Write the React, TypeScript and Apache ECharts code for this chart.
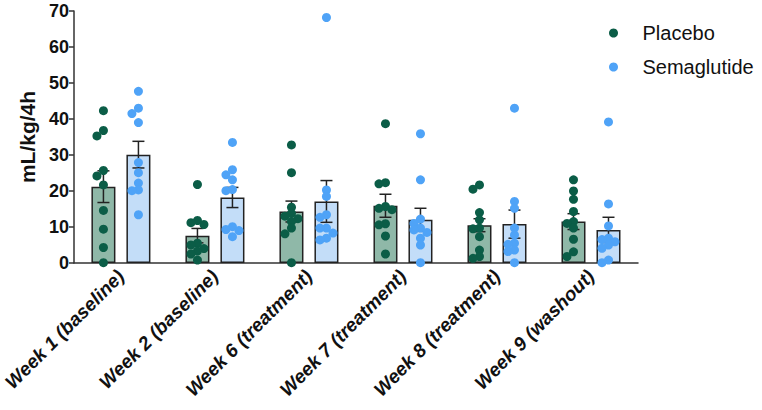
import { useEffect, useRef } from "react";
import * as echarts from "echarts";

const weeks = [
  "Week 1 (baseline)",
  "Week 2 (baseline)",
  "Week 6 (treatment)",
  "Week 7 (treatment)",
  "Week 8 (treatment)",
  "Week 9 (washout)",
];

const placeboMean = [21.2, 7.6, 14.3, 15.9, 10.5, 11.5];
const placeboSem = [4.4, 2.0, 2.9, 3.2, 1.8, 2.2];
const semaMean = [30.1, 18.2, 17.1, 12.0, 10.8, 9.2];
const semaSem = [3.7, 2.8, 5.8, 3.2, 3.9, 3.5];

const placeboPoints = [
  [42.3, 36.8, 35.3, 25.7, 24.2, 21.7, 14.6, 9.4, 4.3, 0.1],
  [21.8, 11.8, 11.2, 10.7, 5.5, 5.0, 4.0, 3.3, 2.5, 0.8],
  [32.8, 25.1, 15.5, 13.8, 13.0, 12.3, 11.5, 9.7, 8.1, 0.1],
  [38.7, 22.3, 22.0, 15.7, 15.2, 14.8, 10.9, 10.6, 7.5, 2.5],
  [21.7, 20.5, 14.0, 12.0, 9.7, 9.5, 7.3, 3.6, 1.8, 1.3],
  [23.1, 20.0, 17.7, 14.3, 11.5, 11.0, 9.7, 6.6, 3.1, 1.8],
];

const semaPoints = [
  [47.7, 43.0, 41.5, 39.0, 27.9, 25.1, 22.2, 20.3, 20.1, 13.4],
  [33.5, 25.9, 24.5, 23.1, 20.4, 20.1, 10.1, 9.3, 9.0, 7.3],
  [68.2, 20.3, 18.5, 13.4, 12.7, 9.7, 9.7, 8.3, 6.9, 6.4],
  [35.9, 23.1, 12.2, 11.0, 9.7, 9.2, 8.5, 6.9, 5.0, 0.1],
  [43.0, 17.1, 15.2, 9.7, 7.8, 5.5, 5.2, 3.6, 3.2, 0.1],
  [39.2, 16.4, 10.3, 6.9, 6.5, 5.9, 5.0, 4.1, 0.8, 0.1],
];

const GRID = { left: 69, right: 124, top: 11, bottom: 147 };
const Y_MAX = 70;
const BAR_W = 24;
const BAR_GAP = 11;
const DOT = 9;
const FONT = "Liberation Sans, Arial, sans-serif";

// simple beeswarm: spread dots that would overlap too much
function swarm(values: number[], pxPerUnit: number) {
  const placed: { x: number; y: number }[] = [];
  const steps = [0, -1, 1, -2, 2];
  return values.map((v) => {
    const y = v * pxPerUnit;
    for (const k of steps) {
      const x = k * 6.5;
      if (placed.every((p) => Math.hypot(p.x - x, p.y - y) >= DOT - 3)) {
        placed.push({ x, y });
        return x;
      }
    }
    placed.push({ x: 0, y });
    return 0;
  });
}

export default function App() {
  const chartRef = useRef<HTMLDivElement>(null);

  useEffect(() => {
    document.body.style.margin = "0";
    if (!chartRef.current) return;
    const chart = echarts.init(chartRef.current, null, { renderer: "svg" });
    const pxPerUnit = (410 - GRID.top - GRID.bottom) / Y_MAX;
    const half = (BAR_W + BAR_GAP) / 2;

    const dots = (groups: number[][], shift: number) =>
      groups.flatMap((vals, i) => {
        const jit = swarm(vals, pxPerUnit);
        return vals.map((v, j) => ({ value: [i, v], symbolOffset: [shift + jit[j], 0] }));
      });

    const errorSeries = (name: string, mean: number[], sem: number[], shift: number) => ({
      name,
      type: "custom",
      z: 3,
      silent: true,
      data: mean.map((m, i) => [i, m, sem[i]]),
      renderItem: (_p: any, api: any) => {
        const i = api.value(0);
        const m = api.value(1);
        const s = api.value(2);
        const top = api.coord([i, m + s]);
        const bot = api.coord([i, m - s]);
        const x = top[0] + shift;
        const st = { stroke: "#222", lineWidth: 1.5 };
        return {
          type: "group",
          children: [
            { type: "line", shape: { x1: x, y1: top[1], x2: x, y2: bot[1] }, style: st },
            { type: "line", shape: { x1: x - 6, y1: top[1], x2: x + 6, y2: top[1] }, style: st },
            { type: "line", shape: { x1: x - 6, y1: bot[1], x2: x + 6, y2: bot[1] }, style: st },
          ],
        };
      },
    });

    const option = {
      animation: false,
      grid: GRID,
      legend: {
        data: ["Placebo", "Semaglutide"],
        orient: "vertical",
        left: 604,
        top: 18,
        icon: "circle",
        itemWidth: 48,
        itemHeight: 9,
        itemGap: 14,
        textStyle: { fontSize: 20, fontFamily: FONT, color: "#111" },
      },
      xAxis: {
        type: "category",
        data: weeks,
        axisLine: { lineStyle: { color: "#333", width: 1.5 } },
        axisTick: { alignWithLabel: true, length: 7, lineStyle: { color: "#333", width: 1.5 } },
        axisLabel: {
          rotate: 45,
          margin: 10,
          fontSize: 19,
          fontWeight: "bold",
          fontStyle: "italic",
          fontFamily: FONT,
          color: "#111",
        },
      },
      yAxis: {
        type: "value",
        min: 0,
        max: Y_MAX,
        interval: 10,
        name: "mL/kg/4h",
        nameLocation: "middle",
        nameGap: 28,
        nameTextStyle: { fontSize: 21, fontWeight: "bold", fontFamily: FONT, color: "#111" },
        splitLine: { show: false },
        axisLine: { show: true, lineStyle: { color: "#333", width: 1.5 } },
        axisTick: { show: true, length: 5, lineStyle: { color: "#333", width: 1.5 } },
        axisLabel: { fontSize: 18, fontWeight: "bold", fontFamily: FONT, color: "#111", margin: 5 },
      },
      series: [
        {
          name: "Placebo mean",
          type: "bar",
          data: placeboMean,
          barWidth: BAR_W,
          barGap: (BAR_GAP / BAR_W) * 100 + "%",
          itemStyle: { color: "#8fb8a8", borderColor: "#222", borderWidth: 1.5 },
          z: 2,
        },
        {
          name: "Semaglutide mean",
          type: "bar",
          data: semaMean,
          barWidth: BAR_W,
          itemStyle: { color: "#c3ddf8", borderColor: "#222", borderWidth: 1.5 },
          z: 2,
        },
        errorSeries("Placebo sem", placeboMean, placeboSem, -half),
        errorSeries("Semaglutide sem", semaMean, semaSem, half),
        {
          name: "Placebo",
          type: "scatter",
          symbolSize: DOT,
          itemStyle: { color: "#0b5d47", opacity: 1 },
          data: dots(placeboPoints, -half),
          z: 4,
        },
        {
          name: "Semaglutide",
          type: "scatter",
          symbolSize: DOT,
          itemStyle: { color: "#4fa3f7", opacity: 1 },
          data: dots(semaPoints, half),
          z: 4,
        },
      ],
    };

    chart.setOption(option as any);
    return () => {
      chart.dispose();
    };
  }, []);

  return <div ref={chartRef} style={{ width: 762, height: 410 }}></div>;
}
